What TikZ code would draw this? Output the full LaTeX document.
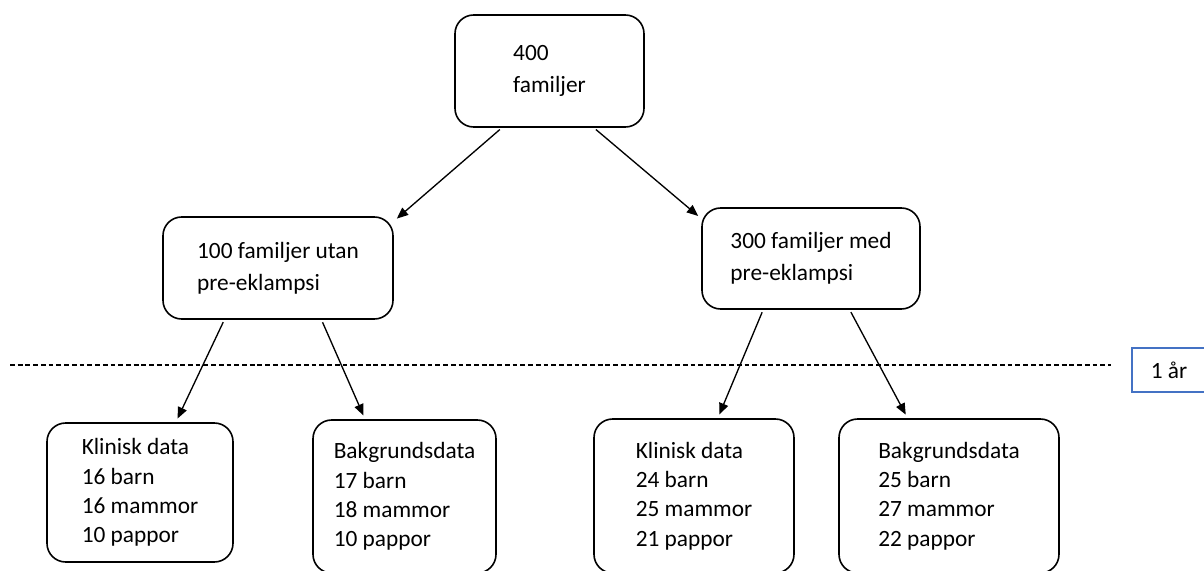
\documentclass[tikz,border=0pt]{standalone}
\usepackage{fontspec}
\setmainfont{Carlito}
\usepackage{xcolor}
\definecolor{ink}{HTML}{000000}
\definecolor{wordblue}{HTML}{4472C4}
\usepackage{tikz}
\usetikzlibrary{arrows.meta,positioning,calc}
\tikzset{
  boks/.style={draw=ink,line width=1.2pt,rounded corners=14pt,fill=white,
               align=left,inner sep=4pt},
  stor/.style={boks,font=\fontsize{17.5}{24}\selectfont},
  data/.style={boks,font=\fontsize{17.5}{22}\selectfont},
  tidbox/.style={draw=wordblue,line width=0.9pt,font=\fontsize{17.5}{22}\selectfont,
                 inner sep=3pt},
  flow/.style={-{Triangle[length=8.5pt,width=7pt]},line width=1pt,draw=ink,
               shorten <=2pt,shorten >=3pt},
  cut/.style={line width=1pt,draw=ink,dash pattern=on 3.6pt off 2.2pt},
}

\begin{document}
\begin{tikzpicture}[x=0.75pt,y=-0.75pt]
  \useasboundingbox (0,0) rectangle (1204,571);
  \clip (0,0) rectangle (1204,571);

  % top and middle level
  \node[stor,minimum width=141.75pt,minimum height=84pt] (fam) at (549.5,71) {400\\familjer};
  \node[stor,minimum width=172.5pt,minimum height=76.5pt] (utan) at (278,268) {100 familjer utan\\pre-eklampsi};
  \node[stor,minimum width=163.5pt,minimum height=75.75pt] (med) at (811,258.5) {300 familjer med\\pre-eklampsi};

  % data after one year
  \node[data,minimum width=139.5pt,minimum height=104.25pt] (utanklin) at (140,492.5)
    {Klinisk data\\16 barn\\16 mammor\\10 pappor};
  \node[data,minimum width=137.25pt,minimum height=114.75pt] (utanbakg) at (404.5,496.5)
    {Bakgrundsdata\\17 barn\\18 mammor\\10 pappor};
  \node[data,minimum width=150pt,minimum height=115.5pt] (medklin) at (694,496)
    {Klinisk data\\24 barn\\25 mammor\\21 pappor};
  \node[data,minimum width=165pt,minimum height=115.5pt] (medbakg) at (949,496)
    {Bakgrundsdata\\25 barn\\27 mammor\\22 pappor};

  \node[tidbox,minimum width=55.5pt,minimum height=33pt] (tid) at (1169,370) {1 år};

  \coordinate (linjeA) at (10,365);
  \coordinate (linjeB) at (1111,365);
  \draw[cut] (linjeA) -- (linjeB);

  \draw[flow] (fam.230) -- (utan.22);
  \draw[flow] (fam.308) -- (med.160);
  \draw[flow] (utan.224) -- (utanklin.63);
  \draw[flow] (utan.310) -- (utanbakg.117);
  \draw[flow] (med.227) -- (medklin.73);
  \draw[flow] (med.307) -- (medbakg.118);
\end{tikzpicture}
\end{document}
